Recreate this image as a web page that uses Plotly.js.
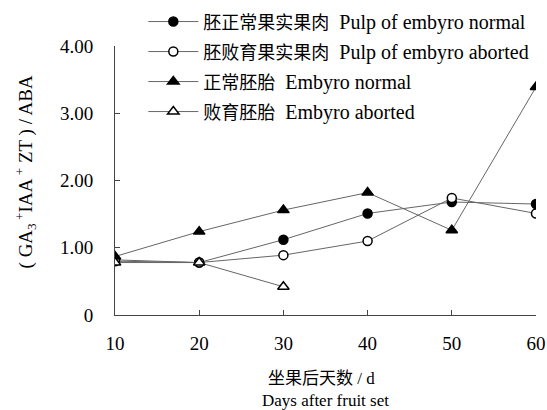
<!DOCTYPE html>
<html><head><meta charset="utf-8">
<script src="https://cdn.plot.ly/plotly-3.0.1.min.js"></script>
<style>html,body{margin:0;padding:0;background:#fff}#c{width:547px;height:410px}</style>
</head><body><div id="c"></div>
<script>
const days = [10, 20, 30, 40, 50, 60];
const daysAborted = [10, 20, 30];
const pulpNormal = [0.80, 0.78, 1.12, 1.51, 1.68, 1.65];
const pulpAborted = [0.82, 0.78, 0.89, 1.10, 1.74, 1.51];
const embryoNormal = [0.87, 1.24, 1.56, 1.82, 1.26, 3.39];
const embryoAborted = [0.78, 0.78, 0.42];
const namesZh = ['胚正常果实果肉', '胚败育果实果肉', '正常胚胎', '败育胚胎'];
const namesEn = ['Pulp of embyro normal', 'Pulp of embyro aborted', 'Embyro normal', 'Embyro aborted'];
const yTicks = [0, 1, 2, 3, 4];
const yTickText = ['0', '1.00', '2.00', '3.00', '4.00'];
const xTitleZh = '坐果后天数 / d';
const xTitleEn = 'Days after fruit set';
const yTitle = '( GA<sub>3</sub><sup> +</sup>IAA<sup> +</sup> ZT ) / ABA';

const F = 'Liberation Serif, Times New Roman, Noto Sans CJK SC, serif';
const lineC = '#666';
function nm(i) { return '<span style="font-size:18px">' + namesZh[i] + '</span>  ' + namesEn[i]; }
function tr(x, y, i, sym, fill, g) {
  return {x: x, y: y, name: nm(i), type: 'scatter', mode: 'lines+markers', legendgroup: g,
    line: {color: lineC, width: 1},
    marker: {symbol: sym, size: sym.indexOf('triangle') >= 0 ? 10 : 9, color: fill, line: {color: '#000', width: 1.5}}};
}
const data = [
  tr(days, pulpNormal, 0, 'circle', '#000', 'a'),
  tr(days, pulpAborted, 1, 'circle', '#fff', 'b'),
  tr(days, embryoNormal, 2, 'triangle-up', '#000', 'c'),
  tr(daysAborted, embryoAborted, 3, 'triangle-up', '#fff', 'd')
];
const layout = {
  width: 547, height: 410,
  margin: {l: 115, r: 11, t: 46, b: 95, autoexpand: false},
  paper_bgcolor: '#fff', plot_bgcolor: '#fff',
  font: {family: F, size: 19, color: '#000'},
  showlegend: true,
  legend: {xref: 'container', yref: 'container', x: 0.262, y: 0.995, xanchor: 'left', yanchor: 'top',
    bgcolor: 'rgba(0,0,0,0)', font: {family: F, size: 20, color: '#000'}, tracegroupgap: 1, itemwidth: 50},
  xaxis: {range: [10, 60], tickvals: days, ticks: 'inside', ticklen: 5, tickcolor: '#444',
    showline: true, linecolor: '#444', linewidth: 1, showgrid: false, zeroline: false,
    ticklabelstandoff: 11},
  yaxis: {range: [0, 4], tickvals: yTicks, ticktext: yTickText, ticks: 'inside', ticklen: 5, tickcolor: '#444',
    showline: true, linecolor: '#444', linewidth: 1, showgrid: false, zeroline: false,
    ticklabelstandoff: 17},
  annotations: [
    {xref: 'paper', yref: 'paper', x: 0.49, y: (315 - 378) / 269, text: xTitleZh, showarrow: false,
     font: {family: F, size: 17}, xanchor: 'center', yanchor: 'middle'},
    {xref: 'paper', yref: 'paper', x: 0.5, y: (315 - 400) / 269, text: xTitleEn, showarrow: false,
     font: {family: F, size: 17}, xanchor: 'center', yanchor: 'middle'},
    {xref: 'paper', yref: 'paper', x: (25 - 115) / 421, y: 0.53, text: yTitle, showarrow: false, textangle: -90,
     font: {family: F, size: 19}, xanchor: 'center', yanchor: 'middle'}
  ]
};
Plotly.newPlot('c', data, layout, {displayModeBar: false, staticPlot: true});
</script></body></html>
